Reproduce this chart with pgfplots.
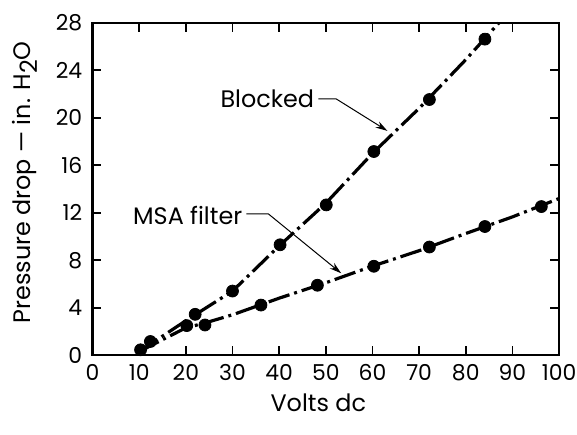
\documentclass[border=0pt]{standalone}
\usepackage{pgfplots}
\pgfplotsset{compat=1.18}
\usepackage{fontspec}
\setmainfont{Poppins}
\usetikzlibrary{arrows.meta}
\begin{document}
\fontsize{12}{14}\selectfont
\begin{tikzpicture}
\path[use as bounding box] (-46.5pt,-40pt) rectangle (243.5pt,178.5pt);
\begin{axis}[
  at={(0,0)}, anchor=south west,
  width=234.5pt, height=167pt, scale only axis,
  xmin=0, xmax=100, ymin=0, ymax=28,
  xtick={0,10,...,100}, ytick={0,4,...,28},
  tick align=inside, major tick length=4.5pt,
  tick style={line width=0.9pt, black},
  axis line style={line width=1.1pt},
  /pgf/number format/assume math mode=true,
  tick label style={font=\fontsize{11}{13}\selectfont},
  xticklabel style={yshift=-0.5pt},
  yticklabel style={xshift=-1pt},
  xlabel={Volts dc},
  ylabel={Pressure drop --- in. H\raisebox{-0.5ex}{2}O},
  xlabel style={at={(axis description cs:0.484,-0.144)}, anchor=center},
  ylabel style={at={(axis description cs:-0.145,0.52)}, anchor=center},
  clip=false,
]
% fitted lines
\addplot[black, line width=1.6pt, dash pattern=on 11pt off 2.5pt on 1.5pt off 2.5pt] coordinates {
(10,0.3) (20,2.9) (30,5.4) (40,9.2) (50,12.8) (60,17.0) (70,20.8) (80,24.9) (87.1,28)};
\addplot[black, line width=1.6pt, dash pattern=on 11pt off 2.5pt on 1.5pt off 2.5pt] coordinates {
(10,0.3) (20,2.3) (24,2.7) (30,3.4) (40,4.8) (50,6.1) (60,7.5) (70,8.8) (80,10.25) (90,11.65) (100,13.2)};
% data points
\addplot[only marks, mark=*, mark size=3pt, black] coordinates {
(10.3,0.45) (12.4,1.15) (22.0,3.44) (30.0,5.4) (40.2,9.3) (50.1,12.66) (60.3,17.16) (72.2,21.54) (84.1,26.63)};
\addplot[only marks, mark=*, mark size=3pt, black] coordinates {
(20.2,2.49) (24.1,2.54) (36.1,4.22) (48.2,5.89) (60.3,7.49) (72.2,9.11) (84.1,10.84) (96.2,12.52)};
% annotations
\node[anchor=east, inner sep=1pt] at (axis cs:48,21.6) {Blocked};
\draw[line width=0.5pt, -{Stealth[length=6pt,width=3.5pt]}] (axis cs:48.4,21.6) -- (axis cs:52.2,21.6) -- (axis cs:63.2,18.9);
\node[anchor=east, inner sep=1pt] at (axis cs:32.6,11.8) {MSA filter};
\draw[line width=0.5pt, -{Stealth[length=6pt,width=3.5pt]}] (axis cs:33.0,11.9) -- (axis cs:37.7,11.9) -- (axis cs:53.3,6.9);
\end{axis}
\end{tikzpicture}
\end{document}
